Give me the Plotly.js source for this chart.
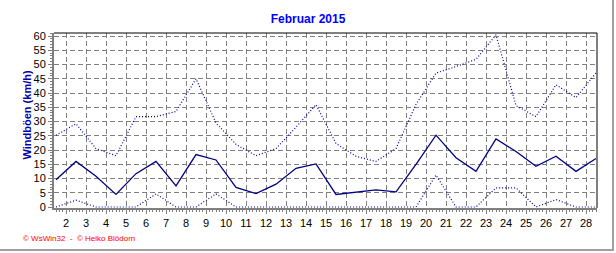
<!DOCTYPE html>
<html>
<head>
<meta charset="utf-8">
<script src="https://cdn.plot.ly/plotly-3.0.1.min.js"></script>
<style>
  html, body { margin: 0; padding: 0; background: #fff; }
  #wrap { position: relative; width: 616px; height: 253px; overflow: hidden; }
  #chart { position: absolute; left: 0; top: 0; width: 616px; height: 253px; }
  #frame { position: absolute; left: 0; top: 0; width: 612px; height: 249px;
           border-right: 2px solid #a0a0a0; border-bottom: 2px solid #a0a0a0; pointer-events: none; }
</style>
</head>
<body>
<div id="wrap"><div id="chart"></div><div id="frame"></div></div>
<script>
// Data (km/h), one value per day of February 2015
const days = [1,2,3,4,5,6,7,8,9,10,11,12,13,14,15,16,17,18,19,20,21,22,23,24,25,26,27,28];
const gustMax  = [25.2,29.2,20.5,18.0,31.7,31.7,33.5,45.0,29.5,22.0,18.0,20.5,28.0,35.9,22.3,17.8,16.0,20.5,36.0,47.0,49.3,51.8,60.4,35.6,31.7,42.9,38.4,47.0];
const gustMean = [9.6,16.0,10.8,4.4,11.7,16.0,7.4,18.4,16.5,6.9,4.7,8.0,13.6,15.1,4.4,5.3,6.0,5.3,15.0,25.2,17.3,12.5,23.9,19.5,14.3,17.8,12.5,17.0];
const gustMin  = [0,2.4,0,0,0,4.6,0,0,4.6,0,0,0,0,0,0,0,0,0,0,11.2,0,0,6.7,6.7,0,2.6,0,0];
const tickLabels = ["2","3","4","5","6","7","8","9","10","11","12","13","14","15","16","17","18","19","20","21","22","23","24","25","26","27","28"];
const tickPos = tickLabels.map(t => Number(t) - 0.5);

const traces = [
  { x: days, y: gustMax, type: 'scatter', mode: 'lines',
    line: { color: '#0000a0', width: 1.2, dash: '1px,2px' }, hoverinfo: 'skip' },
  { x: days, y: gustMin, type: 'scatter', mode: 'lines',
    line: { color: '#0000a0', width: 1.2, dash: '1px,2px' }, hoverinfo: 'skip' },
  { x: days, y: gustMean, type: 'scatter', mode: 'lines',
    line: { color: '#000080', width: 1.3 }, hoverinfo: 'skip' }
];

const axisCommon = {
  showline: true, linecolor: '#808080', linewidth: 2,
  showgrid: true, gridcolor: '#808080', gridwidth: 1, griddash: '5px,3px',
  zeroline: false, ticks: 'outside', ticklen: 4, tickcolor: '#808080', tickwidth: 1,
  tickfont: { family: 'Arial, Liberation Sans, sans-serif', size: 11, color: '#000' },
  fixedrange: true
};

const layout = {
  width: 616, height: 253,
  margin: { l: 54, r: 19, t: 33, b: 45 },
  paper_bgcolor: '#fff', plot_bgcolor: '#fff',
  showlegend: false,
  title: { text: 'Februar 2015', x: 0.5, xref: 'container', xanchor: 'center',
           y: 0.925, yref: 'container', yanchor: 'middle',
           font: { family: 'Arial, Liberation Sans, sans-serif', size: 12, color: '#0000ff', weight: 'bold' } },
  xaxis: Object.assign({}, axisCommon, {
    range: [0.9, 28.05], tickmode: 'array', tickvals: tickPos, ticktext: tickLabels,
    minor: { tick0: 0.5, dtick: 1/6, ticks: 'outside', ticklen: 2, tickcolor: '#808080', showgrid: false }
  }),
  yaxis: Object.assign({}, axisCommon, {
    range: [-0.35, 61.06], tick0: 0, dtick: 5,
    minor: { tick0: 0, dtick: 1, ticks: 'outside', ticklen: 2, tickcolor: '#808080', showgrid: false }
  }),
  shapes: [
    { type: 'line', xref: 'paper', yref: 'paper', x0: 0, x1: 1, y0: 1, y1: 1, line: { color: '#000', width: 1 } },
    { type: 'line', xref: 'paper', yref: 'paper', x0: 1, x1: 1, y0: 0, y1: 1, line: { color: '#000', width: 1 } }
  ],
  annotations: [
    { text: 'Windböen (km/h)', xref: 'paper', yref: 'paper', x: 0, y: 0.5,
      xanchor: 'center', yanchor: 'middle', xshift: -28, yshift: 5, textangle: -90, showarrow: false,
      font: { family: 'Arial, Liberation Sans, sans-serif', size: 11, color: '#0000b0', weight: 'bold' } },
    { text: '© WsWin32  -  © Heiko Blödorn', xref: 'paper', yref: 'paper', x: 0, y: 0,
      xanchor: 'left', yanchor: 'middle', xshift: -33, yshift: -30, showarrow: false,
      font: { family: 'Arial, Liberation Sans, sans-serif', size: 8, color: '#ff0000' } }
  ]
};

Plotly.newPlot('chart', traces, layout, { displayModeBar: false, staticPlot: true });
</script>
</body>
</html>
